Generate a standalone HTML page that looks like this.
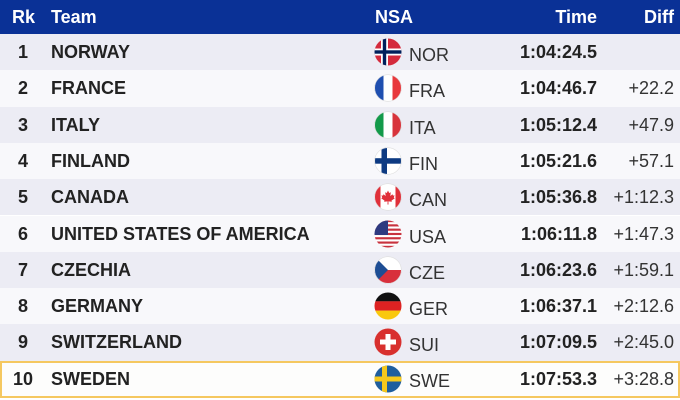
<!DOCTYPE html>
<html><head><meta charset="utf-8">
<style>
html,body{margin:0;padding:0;}
body{width:680px;height:400px;overflow:hidden;background:#fff;font-family:"Liberation Sans",Arial,sans-serif;position:relative;}
.hdr{position:absolute;left:0;top:0;width:680px;height:34px;background:#0a3196;color:#fff;font-weight:bold;font-size:18px;}
.hdr span{position:absolute;top:0;line-height:34px;}
.row{position:absolute;left:0;width:680px;height:36.3px;color:#222;font-size:18px;}
.row.o{background:#ececf4;}
.row.e{background:#f8f8fb;}
.row span{position:absolute;top:0;line-height:36px;white-space:nowrap;}
.rk{left:3px;width:40px;text-align:center;font-weight:bold;}
.tm{left:51px;font-weight:bold;}
.nsa{left:409px;color:#333;top:3px !important;}
.time{right:83px;font-weight:bold;}
.diff{right:6px;color:#333;}
.flag{position:absolute;left:374px;top:4px;width:28px;height:28px;}
.last{box-sizing:border-box;border:2px solid #f5c860;background:#fdfdfc;height:37px;}
</style></head><body>
<div class="hdr"><span style="left:12px">Rk</span><span style="left:51px">Team</span><span style="left:375px">NSA</span><span style="right:83px">Time</span><span style="right:6px">Diff</span></div>

<svg width="0" height="0" style="position:absolute"><defs><clipPath id="c"><circle cx="14" cy="14" r="13.5"/></clipPath></defs></svg>

<div class="row o" style="top:34px">
<span class="rk">1</span><span class="tm">NORWAY</span>
<svg class="flag" viewBox="0 0 28 28"><g clip-path="url(#c)"><rect width="28" height="28" fill="#d42a3c"/><rect x="7" width="7" height="28" fill="#fff"/><rect y="10.5" width="28" height="7" fill="#fff"/><rect x="8.8" width="3.4" height="28" fill="#00205b"/><rect y="12.3" width="28" height="3.4" fill="#00205b"/></g></svg>
<span class="nsa">NOR</span><span class="time">1:04:24.5</span><span class="diff"></span></div>

<div class="row e" style="top:70.3px">
<span class="rk">2</span><span class="tm">FRANCE</span>
<svg class="flag" viewBox="0 0 28 28"><g clip-path="url(#c)"><rect width="28" height="28" fill="#fff"/><rect width="9.5" height="28" fill="#1f4fb0"/><rect x="18.5" width="9.5" height="28" fill="#e8383d"/></g><circle cx="14" cy="14" r="13.3" fill="none" stroke="#ddd" stroke-width="0.6"/></svg>
<span class="nsa">FRA</span><span class="time">1:04:46.7</span><span class="diff">+22.2</span></div>

<div class="row o" style="top:106.6px">
<span class="rk">3</span><span class="tm">ITALY</span>
<svg class="flag" viewBox="0 0 28 28"><g clip-path="url(#c)"><rect width="28" height="28" fill="#fff"/><rect width="9.5" height="28" fill="#139a4a"/><rect x="18.5" width="9.5" height="28" fill="#d8343c"/></g><circle cx="14" cy="14" r="13.3" fill="none" stroke="#ddd" stroke-width="0.6"/></svg>
<span class="nsa">ITA</span><span class="time">1:05:12.4</span><span class="diff">+47.9</span></div>

<div class="row e" style="top:142.9px">
<span class="rk">4</span><span class="tm">FINLAND</span>
<svg class="flag" viewBox="0 0 28 28"><g clip-path="url(#c)"><rect width="28" height="28" fill="#fff"/><rect x="7.5" width="5.5" height="28" fill="#0d3a82"/><rect y="11.2" width="28" height="5.5" fill="#0d3a82"/></g><circle cx="14" cy="14" r="13.3" fill="none" stroke="#ddd" stroke-width="0.6"/></svg>
<span class="nsa">FIN</span><span class="time">1:05:21.6</span><span class="diff">+57.1</span></div>

<div class="row o" style="top:179.2px">
<span class="rk">5</span><span class="tm">CANADA</span>
<svg class="flag" viewBox="0 0 28 28"><g clip-path="url(#c)"><rect width="28" height="28" fill="#fff"/><rect width="6.5" height="28" fill="#e0303a"/><rect x="21.5" width="6.5" height="28" fill="#e0303a"/><path d="M14 7.5 L15.2 10 L16.8 9.3 L16.3 13 L18.5 11.3 L19 12.6 L20.5 12.3 L19.8 14.6 L20.8 15.2 L17.5 17.6 L17.9 18.8 L14.4 18.4 L14.5 21.5 L13.5 21.5 L13.6 18.4 L10.1 18.8 L10.5 17.6 L7.2 15.2 L8.2 14.6 L7.5 12.3 L9 12.6 L9.5 11.3 L11.7 13 L11.2 9.3 L12.8 10 Z" fill="#e0303a"/></g><circle cx="14" cy="14" r="13.3" fill="none" stroke="#ddd" stroke-width="0.6"/></svg>
<span class="nsa">CAN</span><span class="time">1:05:36.8</span><span class="diff">+1:12.3</span></div>

<div class="row e" style="top:215.5px">
<span class="rk">6</span><span class="tm">UNITED STATES OF AMERICA</span>
<svg class="flag" viewBox="0 0 28 28"><g clip-path="url(#c)"><rect width="28" height="28" fill="#fff"/>
<rect y="0" width="28" height="2.15" fill="#c8323e"/><rect y="4.3" width="28" height="2.15" fill="#c8323e"/><rect y="8.6" width="28" height="2.15" fill="#c8323e"/><rect y="12.9" width="28" height="2.15" fill="#c8323e"/><rect y="17.2" width="28" height="2.15" fill="#c8323e"/><rect y="21.5" width="28" height="2.15" fill="#c8323e"/><rect y="25.8" width="28" height="2.2" fill="#c8323e"/>
<rect width="14" height="15" fill="#2e3a80"/></g></svg>
<span class="nsa">USA</span><span class="time">1:06:11.8</span><span class="diff">+1:47.3</span></div>

<div class="row o" style="top:251.8px">
<span class="rk">7</span><span class="tm">CZECHIA</span>
<svg class="flag" viewBox="0 0 28 28"><g clip-path="url(#c)"><rect width="28" height="14" fill="#fff"/><rect y="14" width="28" height="14" fill="#d8303c"/><path d="M0 0 L14 14 L0 28 Z" fill="#1d4d94"/></g><circle cx="14" cy="14" r="13.3" fill="none" stroke="#ddd" stroke-width="0.6"/></svg>
<span class="nsa">CZE</span><span class="time">1:06:23.6</span><span class="diff">+1:59.1</span></div>

<div class="row e" style="top:288.1px">
<span class="rk">8</span><span class="tm">GERMANY</span>
<svg class="flag" viewBox="0 0 28 28"><g clip-path="url(#c)"><rect width="28" height="9.4" fill="#111"/><rect y="9.3" width="28" height="9.4" fill="#dd2222"/><rect y="18.6" width="28" height="9.4" fill="#f9c80e"/></g></svg>
<span class="nsa">GER</span><span class="time">1:06:37.1</span><span class="diff">+2:12.6</span></div>

<div class="row o" style="top:324.4px">
<span class="rk">9</span><span class="tm">SWITZERLAND</span>
<svg class="flag" viewBox="0 0 28 28"><g clip-path="url(#c)"><rect width="28" height="28" fill="#d8302e"/><rect x="11.5" y="6" width="5" height="16" fill="#fff"/><rect x="6" y="11.5" width="16" height="5" fill="#fff"/></g></svg>
<span class="nsa">SUI</span><span class="time">1:07:09.5</span><span class="diff">+2:45.0</span></div>

<div class="row last" style="top:360.7px">
<span class="rk" style="left:1px;line-height:33px">10</span><span class="tm" style="left:49px;line-height:33px">SWEDEN</span>
<svg class="flag" viewBox="0 0 28 28" style="left:372px;top:2px"><g clip-path="url(#c)"><rect width="28" height="28" fill="#1f5e9e"/><rect x="8" width="5" height="28" fill="#f6c81c"/><rect y="11.5" width="28" height="5" fill="#f6c81c"/></g></svg>
<span class="nsa" style="left:407px;top:2px !important;line-height:33px">SWE</span><span class="time" style="right:81px;line-height:33px">1:07:53.3</span><span class="diff" style="right:4px;line-height:33px">+3:28.8</span></div>
</body></html>
